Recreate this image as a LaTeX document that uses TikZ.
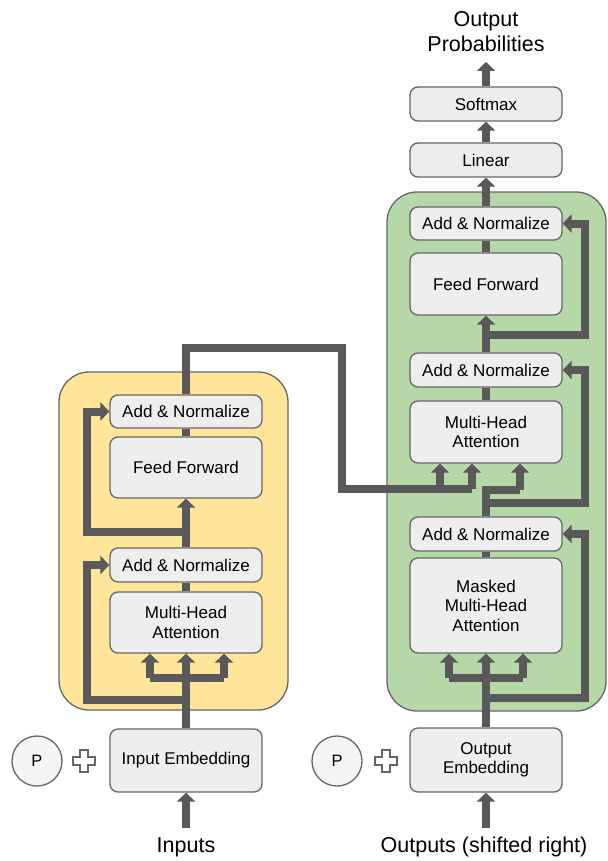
\documentclass[tikz,border=0pt]{standalone}
\usepackage{fontspec}
\setmainfont{Liberation Sans}
\usetikzlibrary{arrows.meta}
\definecolor{conn}{HTML}{595959}
\definecolor{bord}{HTML}{666666}
\definecolor{blockfill}{HTML}{EEEEEE}
\definecolor{encfill}{HTML}{FFE599}
\definecolor{decfill}{HTML}{B6D7A8}
\tikzset{
  block/.style={draw=bord, line width=1.3pt, fill=blockfill, rounded corners=8pt,
    minimum width=152pt, inner sep=0pt, align=center,
    font=\fontsize{17}{19.5}\selectfont},
  stack/.style={draw=bord, line width=1.3pt, rounded corners=30pt},
  conline/.style={draw=conn, line width=8pt},
  conarrow/.style={draw=conn, line width=8pt, -{Triangle[width=18pt,length=9pt]}},
  biglabel/.style={align=center, font=\fontsize{21.5}{25}\selectfont, inner sep=0pt},
  pcircle/.style={circle, draw=bord, line width=1.3pt, fill=blockfill!60, minimum size=50pt, inner sep=0pt, font=\fontsize{16.5}{19}\selectfont},
}
\newcommand{\plusshape}[2]{%
  \filldraw[draw=bord, fill=white, line width=1.1pt]
    (#1-4,#2-11) -- (#1+4,#2-11) -- (#1+4,#2-4) -- (#1+11,#2-4) -- (#1+11,#2+4)
    -- (#1+4,#2+4) -- (#1+4,#2+11) -- (#1-4,#2+11) -- (#1-4,#2+4) -- (#1-11,#2+4)
    -- (#1-11,#2-4) -- (#1-4,#2-4) -- cycle;}
\begin{document}
\begin{tikzpicture}[x=1pt,y=-1pt]
\useasboundingbox (0,0) rectangle (607,861);
% stacks
\path[stack, fill=encfill] (59,372) rectangle (288,710);
\path[stack, fill=decfill] (387,192) rectangle (606,711);

% ---------- encoder nodes
\node[block, minimum height=33pt] (eAN2) at (186,411.5) {Add \& Normalize};
\node[block, minimum height=61pt] (eFF) at (186,467.5) {Feed Forward};
\node[block, minimum height=34pt] (eAN1) at (186,565) {Add \& Normalize};
\node[block, minimum height=61pt] (eMHA) at (186,622.5) {Multi-Head\\Attention};
\node[block, minimum height=63pt] (eEmb) at (186,760.5) {Input Embedding};
\node[pcircle] (eP) at (37,761) {P};
\node[biglabel] (inp) at (186,847) {Inputs};

% ---------- decoder nodes
\node[block, minimum height=34pt] (soft) at (486,104) {Softmax};
\node[block, minimum height=34pt] (lin) at (486,160) {Linear};
\node[block, minimum height=33pt] (dAN3) at (486,223.5) {Add \& Normalize};
\node[block, minimum height=62pt] (dFF) at (486,284) {Feed Forward};
\node[block, minimum height=34pt] (dAN2) at (486,370) {Add \& Normalize};
\node[block, minimum height=62pt] (dMHA) at (486,432) {Multi-Head\\Attention};
\node[block, minimum height=34pt] (dAN1) at (486,534) {Add \& Normalize};
\node[block, minimum height=95pt] (dMMHA) at (486,605.5) {Masked\\Multi-Head\\Attention};
\node[block, minimum height=64pt] (dEmb) at (486,760) {Output\\Embedding};
\node[pcircle] (dP) at (337,761) {P};
\node[biglabel] (outp) at (484,847) {Outputs (shifted right)};
\node[biglabel] (prob) at (486,32) {Output\\Probabilities};

% coordinates
\coordinate (inA) at (186,828);
\coordinate (inB) at (486,828);
\coordinate (eBr) at (186,678);
\coordinate (eBrL) at (150,678);
\coordinate (eBrR) at (224,678);
\coordinate (eRes1) at (186,700);
\coordinate (eRes1L) at (87,700);
\coordinate (eRes2) at (186,532);
\coordinate (eRes2L) at (87,532);
\coordinate (eOut1) at (186,348);
\coordinate (eOut2) at (342,348);
\coordinate (eOut3) at (342,489);
\coordinate (eOutK) at (440,489);
\coordinate (eOutV) at (472,489);
\coordinate (dBr) at (486,678);
\coordinate (dBrL) at (449,678);
\coordinate (dBrR) at (523,678);
\coordinate (dRes1) at (486,698);
\coordinate (dRes1R) at (585,698);
\coordinate (dQ1) at (486,490);
\coordinate (dQ2) at (520,490);
\coordinate (dRes2) at (486,503);
\coordinate (dRes2R) at (585,503);
\coordinate (dRes3) at (486,335);
\coordinate (dRes3R) at (585,335);
\coordinate (probIn) at (486,62);

% ---------- encoder connectors
\draw[conarrow] (inA) -- (eEmb.south);
\draw[conline] (eEmb.north) -- (eBr);
\draw[conline] (eBrL) -- (eBrR);
\draw[conarrow] (eBrL) -- (eBrL |- eMHA.south);
\draw[conarrow] (eBr) -- (eMHA.south);
\draw[conarrow] (eBrR) -- (eBrR |- eMHA.south);
\draw[conarrow] (eRes1) -- (eRes1L) |- (eAN1.west);
\draw[conline] (eMHA.north) -- (eAN1.south);
\draw[conarrow] (eAN1.north) -- (eFF.south);
\draw[conarrow] (eRes2) -- (eRes2L) |- (eAN2.west);
\draw[conline] (eFF.north) -- (eAN2.south);
\draw[conline] (eAN2.north) -- (eOut1) -- (eOut2) -- (eOut3) -- (eOutV);
\draw[conarrow] (eOutK) -- (eOutK |- dMHA.south);
\draw[conarrow] (eOutV) -- (eOutV |- dMHA.south);

% ---------- decoder connectors
\draw[conarrow] (inB) -- (dEmb.south);
\draw[conline] (dEmb.north) -- (dBr);
\draw[conline] (dBrL) -- (dBrR);
\draw[conarrow] (dBrL) -- (dBrL |- dMMHA.south);
\draw[conarrow] (dBr) -- (dMMHA.south);
\draw[conarrow] (dBrR) -- (dBrR |- dMMHA.south);
\draw[conarrow] (dRes1) -- (dRes1R) |- (dAN1.east);
\draw[conline] (dMMHA.north) -- (dAN1.south);
\draw[conline] (dAN1.north) -- (dQ1) -- (dQ2);
\draw[conarrow] (dQ2) -- (dQ2 |- dMHA.south);
\draw[conarrow] (dRes2) -- (dRes2R) |- (dAN2.east);
\draw[conline] (dMHA.north) -- (dAN2.south);
\draw[conarrow] (dAN2.north) -- (dFF.south);
\draw[conarrow] (dRes3) -- (dRes3R) |- (dAN3.east);
\draw[conline] (dFF.north) -- (dAN3.south);
\draw[conarrow] (dAN3.north) -- (lin.south);
\draw[conarrow] (lin.north) -- (soft.south);
\draw[conarrow] (soft.north) -- (probIn);

% plus signs
\plusshape{84}{761}
\plusshape{386}{761}
\end{tikzpicture}
\end{document}
